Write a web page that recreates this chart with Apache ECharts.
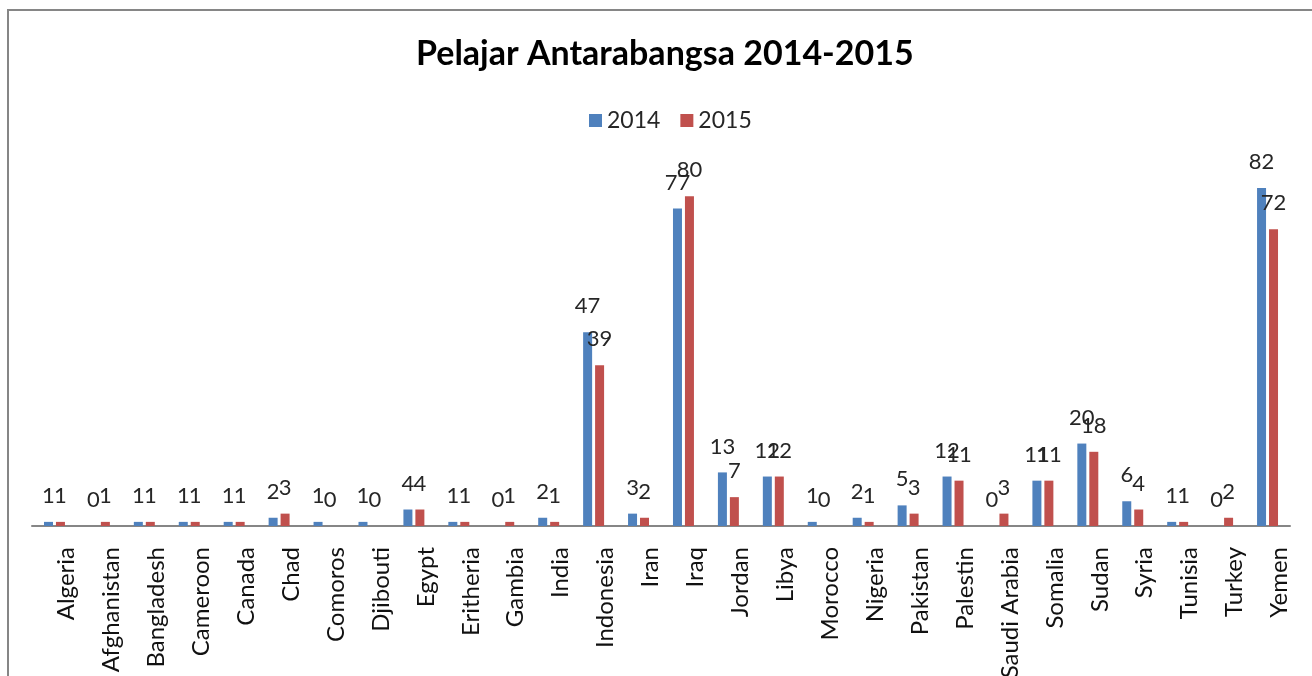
<!DOCTYPE html>
<html>
<head>
<meta charset="utf-8">
<script src="https://cdn.jsdelivr.net/npm/echarts@6/dist/echarts.min.js"></script>
<style>
	html, body { margin: 0; padding: 0; background: #fff; }
	#container { width: 1312px; height: 676px; }
</style>
</head>
<body>
<div id="container"></div>
<script>
var countries = ['Algeria', 'Afghanistan', 'Bangladesh', 'Cameroon', 'Canada', 'Chad', 'Comoros', 'Djibouti',
	'Egypt', 'Eritheria', 'Gambia', 'India', 'Indonesia', 'Iran', 'Iraq', 'Jordan', 'Libya', 'Morocco',
	'Nigeria', 'Pakistan', 'Palestin', 'Saudi Arabia', 'Somalia', 'Sudan', 'Syria', 'Tunisia', 'Turkey', 'Yemen'];
var students2014 = [1, 0, 1, 1, 1, 2, 1, 1, 4, 1, 0, 2, 47, 3, 77, 13, 12, 1, 2, 5, 12, 0, 11, 20, 6, 1, 0, 82];
var students2015 = [1, 1, 1, 1, 1, 3, 0, 0, 4, 1, 1, 1, 39, 2, 80, 7, 12, 0, 1, 3, 11, 3, 11, 18, 4, 1, 2, 72];

(function() {
	var dom = document.getElementById("container");
	var myChart = echarts.init(dom);
	var font = 'Lato, "Noto Sans", sans-serif';

	var barLabel = {
		show: true,
		position: 'top',
		distance: 15,
		color: '#262626',
		fontFamily: font,
		fontSize: 22
	};

	var option = {
		animation: false,
		backgroundColor: '#fff',
		color: ['#4F81BD', '#C0504D'],
		title: {
			text: 'Pelajar Antarabangsa 2014-2015',
			left: 411,
			top: 32,
			textStyle: {
				fontFamily: font,
				fontWeight: 'bold',
				fontSize: 34,
				color: '#000'
			}
		},
		legend: {
			left: 584,
			top: 104,
			itemWidth: 13,
			itemHeight: 13,
			itemGap: 20,
			icon: 'rect',
			textStyle: {
				fontFamily: font,
				fontSize: 23,
				color: '#262626'
			},
			data: ['2014', '2015']
		},
		graphic: [{
			type: 'rect',
			shape: { x: 8, y: 10, width: 1340, height: 700 },
			style: { fill: 'none', stroke: '#868686', lineWidth: 2 },
			silent: true
		}],
		grid: {
			left: 32,
			right: 22,
			top: 155,
			bottom: 150,
			containLabel: false,
			outerBoundsMode: 'none'
		},
		xAxis: {
			type: 'category',
			data: countries,
			axisTick: { show: false },
			axisLine: { lineStyle: { color: '#868686', width: 2 } },
			axisLabel: {
				rotate: 90,
				interval: 0,
				margin: 21,
				verticalAlign: 'top',
				padding: [0, 0, 3, 0],
				fontFamily: font,
				fontSize: 24,
				color: '#111'
			}
		},
		yAxis: {
			type: 'value',
			min: 0,
			max: 90,
			show: false,
			splitLine: { show: false }
		},
		series: [{
			name: '2014',
			type: 'bar',
			barWidth: 9,
			barGap: '33%',
			label: barLabel,
			data: students2014
		}, {
			name: '2015',
			type: 'bar',
			barWidth: 9,
			barGap: '33%',
			label: barLabel,
			data: students2015
		}]
	};

	if (option && typeof option === "object") {
		myChart.setOption(option, true);
	}
})();
</script>
</body>
</html>
